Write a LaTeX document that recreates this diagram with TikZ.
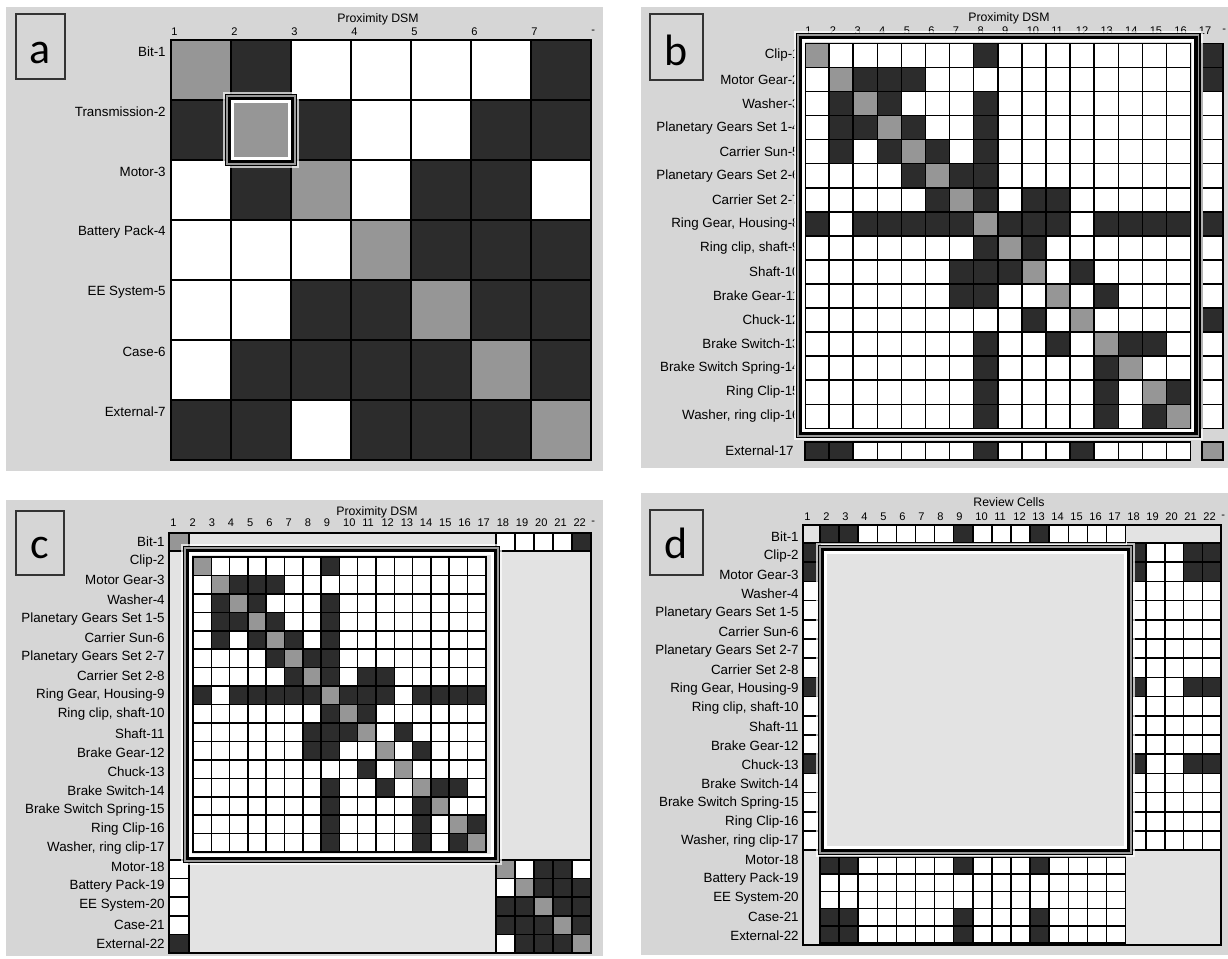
\documentclass[tikz,border=0pt]{standalone}
\usepackage{fontspec}
\setmainfont{Liberation Sans}
\newfontfamily\letrafont{Carlito}
\usetikzlibrary{positioning}
\definecolor{FondoPanel}{RGB}{214,214,214}
\definecolor{CeldaD}{RGB}{44,44,44}
\definecolor{CeldaG}{RGB}{150,150,150}
\definecolor{CeldaW}{RGB}{255,255,255}
\definecolor{CeldaE}{RGB}{227,227,227}

% bloque de celdas: [estilo]{x0}{y0}{ancho}{alto}{filas}
\newcommand{\bloque}[6][celda]{%
  \edef\listabloque{#6}%
  \foreach \fila [count=\i] in \listabloque {
    \foreach \tipo [count=\j] in \fila {
      \filldraw[#1, fill=Celda\tipo] ({#2+(\j-1)*#4},{#3+(\i-1)*#5}) rectangle ++(#4,#5);
    }
  }%
}
% marco doble alrededor de una zona
\newcommand{\marcodoble}[4]{%
  \draw[marcoluz] ({#1-1.2},{#2-1.2}) rectangle ({#3+1.2},{#4+1.2});
  \draw[marcofino] ({#1+0.6},{#2+0.6}) rectangle ({#3-0.6},{#4-0.6});
  \draw[marcogris] ({#1+2.1},{#2+2.1}) rectangle ({#3-2.1},{#4-2.1});
  \draw[marcogrueso] ({#1+4.7},{#2+4.7}) rectangle ({#3-4.7},{#4-4.7});
  \draw[marcoblanco] ({#1+7.6},{#2+7.6}) rectangle ({#3-7.6},{#4-7.6});
}
\newcommand{\nucleo}{%
{G,W,W,W,W,W,W,D,W,W,W,W,W,W,W,W},%
{W,G,D,D,D,W,W,W,W,W,W,W,W,W,W,W},%
{W,D,G,D,W,W,W,D,W,W,W,W,W,W,W,W},%
{W,D,D,G,D,W,W,D,W,W,W,W,W,W,W,W},%
{W,D,W,D,G,D,W,D,W,W,W,W,W,W,W,W},%
{W,W,W,W,D,G,D,D,W,W,W,W,W,W,W,W},%
{W,W,W,W,W,D,G,D,W,D,D,W,W,W,W,W},%
{D,W,D,D,D,D,D,G,D,D,D,W,D,D,D,D},%
{W,W,W,W,W,W,W,D,G,D,W,W,W,W,W,W},%
{W,W,W,W,W,W,D,D,D,G,W,D,W,W,W,W},%
{W,W,W,W,W,W,D,D,W,W,G,W,D,W,W,W},%
{W,W,W,W,W,W,W,W,W,D,W,G,W,W,W,W},%
{W,W,W,W,W,W,W,D,W,W,D,W,G,D,D,W},%
{W,W,W,W,W,W,W,D,W,W,W,W,D,G,W,W},%
{W,W,W,W,W,W,W,D,W,W,W,W,D,W,G,D},%
{W,W,W,W,W,W,W,D,W,W,W,W,D,W,D,G}}
\newcommand{\patron}{D,D,W,W,W,W,W,D,W,W,W,D,W,W,W,W}
\newcommand{\blancos}{W,W,W,W,W,W,W,W,W,W,W,W,W,W,W,W}
\newcommand{\columna}{{D},{D},{W},{W},{W},{W},{W},{D},{W},{W},{W},{D},{W},{W},{W},{W}}
\newcommand{\listafilas}{1/Bit-1,2/Clip-2,3/Motor Gear-3,4/Washer-4,5/Planetary Gears Set 1-5,%
6/Carrier Sun-6,7/Planetary Gears Set 2-7,8/Carrier Set 2-8,9/{Ring Gear, Housing-9},%
10/{Ring clip, shaft-10},11/Shaft-11,12/Brake Gear-12,13/Chuck-13,14/Brake Switch-14,%
15/Brake Switch Spring-15,16/Ring Clip-16,17/{Washer, ring clip-17},18/Motor-18,%
19/Battery Pack-19,20/EE System-20,21/Case-21,22/External-22}

\begin{document}
\begin{tikzpicture}[x=0.02cm, y=-0.02cm,
    celda/.style={draw=black, line width=0.9pt},
    celdaa/.style={draw=black, line width=1.3pt},
    marcoluz/.style={draw=white, opacity=0.7, line width=1.2pt},
    marcofino/.style={draw=black, line width=0.7pt},
    marcogris/.style={draw=black!40, line width=0.9pt},
    marcogrueso/.style={draw=black, line width=2pt},
    marcoblanco/.style={draw=white, line width=1.4pt},
    caja/.style={draw=black!80, line width=0.9pt},
    letra/.style={anchor=base, inner sep=0pt, font=\letrafont\fontsize{25}{25}\selectfont},
    titulo/.style={inner sep=0pt, font=\fontsize{7}{8}\selectfont},
    num/.style={anchor=west, inner sep=0pt, font=\fontsize{6.3}{7}\selectfont},
    fila/.style={anchor=east, inner sep=0pt, font=\fontsize{7.6}{8}\selectfont}]
  \useasboundingbox (0,0) rectangle (1228,958);
  \fill[white] (0,0) rectangle (1228,958);

  % panel a
  \fill[FondoPanel] (6,7) rectangle (603,471);
  \draw[caja] (16,14) rectangle (65,79);
  \node[letra] (letraa) at (40.5,63) {a};
  \node[titulo] (tituloa) at (378,19) {Proximity DSM};
  \foreach \k in {1,...,7}
    \node[num] (numa\k) at ({171+(\k-1)*60},32) {\k};
  \node[num] (numa8) at (591,32) {-};
  \foreach \k/\t in {1/Bit-1,2/Transmission-2,3/Motor-3,4/Battery Pack-4,5/EE System-5,6/Case-6,7/External-7}
    \node[fila] (filaa\k) at (166,{40+(\k-1)*60+12}) {\t};
  \bloque[celdaa]{171}{40}{60}{60}{{G,D,W,W,W,W,D},{D,G,D,W,W,D,D},{W,D,G,W,D,D,W},{W,W,W,G,D,D,D},{W,W,D,D,G,D,D},{W,D,D,D,D,G,D},{D,D,W,D,D,D,G}}
  \marcodoble{225}{94}{297}{166}

  % panel b
  \fill[FondoPanel] (641,7) rectangle (1228,468);
  \draw[caja] (650,14) rectangle (703,80);
  \node[letra] (letrab) at (676.5,65) {b};
  \node[titulo] (titulob) at (1009,18) {Proximity DSM};
  \foreach \k in {1,...,17}
    \node[num] (numb\k) at ({805+(\k-1)*24.6},31) {\k};
  \node[num] (numb18) at (1222,31) {-};
  \begin{scope}
    \clip (641,7) rectangle (794,440);
    \foreach \k/\t in {1/Clip-1,2/Motor Gear-2,3/Washer-3,4/Planetary Gears Set 1-4,5/Carrier Sun-5,6/Planetary Gears Set 2-6,7/Carrier Set 2-7,8/{Ring Gear, Housing-8},9/{Ring clip, shaft-9},10/Shaft-10,11/Brake Gear-11,12/Chuck-12,13/Brake Switch-13,14/Brake Switch Spring-14,15/Ring Clip-15,16/{Washer, ring clip-16}}
      \node[fila] (filab\k) at (800,{43.3+(\k-0.5)*24.07}) {\t};
  \end{scope}
  \node[fila] (filab17) at (794,451) {External-17};
  \bloque{805}{43.3}{24.1}{24.07}{\nucleo}
  \bloque{1202}{43.3}{21}{24.07}{\columna}
  \bloque{805}{442}{24.1}{18}{{\patron}}
  \bloque{1202}{442}{21}{18}{{G}}
  \marcodoble{796}{33}{1200.6}{438}

  % panel c
  \fill[FondoPanel] (6,500) rectangle (603,956);
  \draw[caja] (16,511) rectangle (64,575);
  \node[letra] (letrac) at (40,558) {c};
  \node[titulo] (tituloc) at (377,512) {Proximity DSM};
  \foreach \k in {1,...,22}
    \node[num] (numc\k) at ({169+(\k-1)*19.2+1},523) {\k};
  \node[num] (numc23) at (591,523) {-};
  \foreach \k/\t in \listafilas
    \node[fila] (filac\k) at (165,{542+(\k-1)*19.14}) {\t};
  \filldraw[celda, fill=CeldaE] (169,533) rectangle (591,953);
  \bloque{169}{533}{20}{18}{{G}}
  \bloque{496}{533}{19}{18}{{W,W,W,W,D}}
  \bloque{169}{860}{20}{18.6}{{W},{W},{W},{W},{D}}
  \bloque{496}{860}{19}{18.6}{{G,W,D,D,W},{W,G,D,D,D},{D,D,G,D,D},{D,D,D,G,D},{W,D,D,D,G}}
  \bloque{193}{557}{18.3}{18.44}{\nucleo}
  \marcodoble{183}{546}{500}{863}

  % panel d
  \fill[FondoPanel] (641,493) rectangle (1228,955);
  \draw[caja] (650,510) rectangle (703,575);
  \node[letra] (letrad) at (676.5,558) {d};
  \node[titulo] (titulod) at (1009,502) {Review Cells};
  \foreach \k in {1,...,22}
    \node[num] (numd\k) at ({803+(\k-1)*19+1},517) {\k};
  \node[num] (numd23) at (1221,517) {-};
  \foreach \k/\t in \listafilas
    \node[fila] (filad\k) at (799,{537+(\k-1)*19}) {\t};
  \filldraw[celda, fill=CeldaE] (803,525) rectangle (1221,945);
  \bloque{820}{525}{19.1}{18}{{\patron}}
  \bloque{803}{543}{17}{19.2}{\columna}
  \bloque{1127.5}{543}{18.7}{19.2}{{D,W,W,D,D},{D,W,W,D,D},{W,W,W,W,W},{W,W,W,W,W},{W,W,W,W,W},{W,W,W,W,W},{W,W,W,W,W},{D,W,W,D,D},{W,W,W,W,W},{W,W,W,W,W},{W,W,W,W,W},{D,W,W,D,D},{W,W,W,W,W},{W,W,W,W,W},{W,W,W,W,W},{W,W,W,W,W}}
  \bloque{820}{857}{19.1}{17.2}{{\patron},{\blancos},{\blancos},{\patron},{\patron}}
  \marcodoble{818}{545}{1133}{855}
\end{tikzpicture}
\end{document}
